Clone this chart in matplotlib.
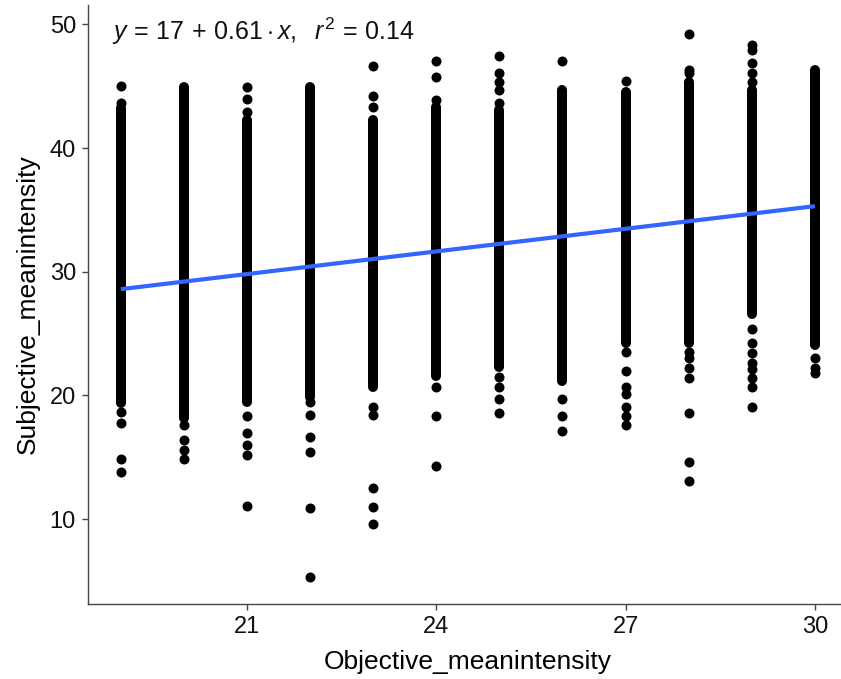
import numpy as np
import matplotlib
matplotlib.use("Agg")
import matplotlib.pyplot as plt

# ---------------- data ----------------
x_cols = [19, 20, 21, 22, 23, 24, 25, 26, 27, 28, 29, 30]
# dense part of each column (points overlap into a solid stripe)
stripe_lo = [19.4, 18.2, 19.5, 19.9, 20.7, 21.6, 22.3, 21.2, 24.2, 24.2, 26.6, 24.1]
stripe_hi = [43.2, 44.9, 42.3, 44.9, 42.3, 43.3, 43.1, 44.7, 44.5, 45.3, 44.7, 46.3]
# separate points above / below each stripe
extra_pts = [
    [45.0, 43.6, 18.7, 17.8, 14.9, 13.8],
    [17.6, 16.4, 15.6, 14.9],
    [44.9, 44.0, 42.9, 18.3, 17.0, 16.0, 15.2, 11.1],
    [19.5, 18.4, 16.6, 15.4, 10.9, 5.3],
    [46.6, 44.2, 43.3, 19.1, 18.4, 12.5, 11.0, 9.6],
    [47.0, 45.7, 43.9, 20.7, 18.3, 14.3],
    [47.4, 46.1, 45.3, 44.7, 43.6, 21.5, 20.7, 19.7, 18.6],
    [47.0, 19.7, 18.3, 17.1],
    [45.4, 23.5, 22.0, 20.7, 20.1, 19.1, 18.3, 17.6],
    [49.2, 46.3, 46.1, 23.5, 23.0, 22.2, 21.4, 18.6, 14.6, 13.1],
    [48.3, 47.9, 46.9, 46.1, 45.3, 25.4, 24.2, 23.4, 22.6, 22.1, 21.4, 20.7, 19.1],
    [23.0, 22.2, 21.8],
]
intercept, slope, r2 = 17, 0.61, 0.14
x_ticks = [21, 24, 27, 30]
y_ticks = [10, 20, 30, 40, 50]

plt.rcParams["font.family"] = ["Liberation Sans", "DejaVu Sans"]
plt.rcParams["mathtext.fontset"] = "custom"
plt.rcParams["mathtext.rm"] = "Liberation Sans"
plt.rcParams["mathtext.it"] = "Liberation Sans:italic"

W, H = 841, 679
fig = plt.figure(figsize=(W / 100, H / 100), dpi=100)
ax = fig.add_axes([87.7 / W, 1 - 604 / H, (848 - 87.7) / W, (604 - 4.5) / H])

MS = 7.2  # marker diameter in points
for x, lo, hi, pts in zip(x_cols, stripe_lo, stripe_hi, extra_pts):
    ax.plot([x, x], [lo, hi], color="black", lw=MS, solid_capstyle="round", zorder=2)
    ax.plot([x] * len(pts), pts, "o", color="black", ms=MS, mew=0, zorder=2)

xs = np.array([min(x_cols), max(x_cols)])
ax.plot(xs, intercept + slope * xs, color="#3366FF", lw=3, zorder=3, solid_capstyle="butt")

ax.set_xlim(18.475, 30.525)
ax.set_ylim(3.14, 51.6)
ax.set_xticks(x_ticks)
ax.set_yticks(y_ticks)
for s in ["top", "right"]:
    ax.spines[s].set_visible(False)
for s in ["left", "bottom"]:
    ax.spines[s].set_color("#444444")
    ax.spines[s].set_linewidth(1.0)
ax.tick_params(length=4.5, width=1.0, color="#444444", labelsize=17, labelcolor="#111111", pad=4)
ax.set_xlabel("Objective_meanintensity", fontsize=19, labelpad=9)
ax.set_ylabel("Subjective_meanintensity", fontsize=19, labelpad=7)

fig.text(112 / W, 1 - 31 / H,
         r"$y\,=\,17\,+\,0.61\cdot x,\ \ r^2\,=\,%s$" % r2,
         fontsize=18, va="center", ha="left", color="#111111")

fig.savefig("out.png", dpi=100)
